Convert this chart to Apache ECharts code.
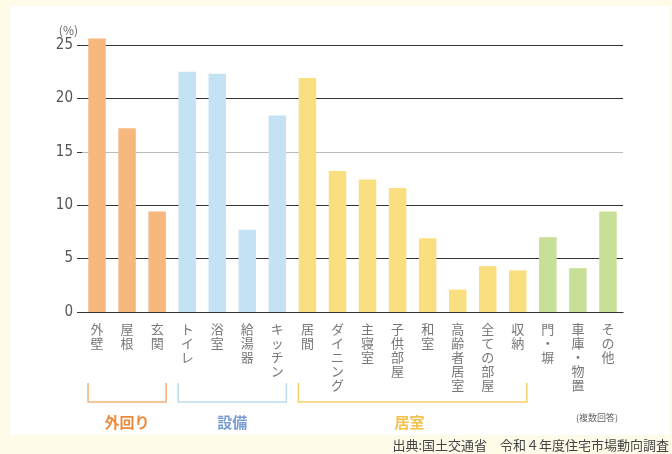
<!DOCTYPE html>
<html>
<head>
<meta charset="utf-8">
<script src="https://cdn.jsdelivr.net/npm/echarts@6/dist/echarts.min.js"></script>
<style>
  html, body { margin: 0; padding: 0; background: #fffbe9; }
  #main { width: 672px; height: 454px; }
</style>
</head>
<body>
<div id="main"></div>
<script>
var categories = ['外壁', '屋根', '玄関', 'トイレ', '浴室', '給湯器', 'キッチン', '居間', 'ダイニング',
    '主寝室', '子供部屋', '和室', '高齢者居室', '全ての部屋', '収納', '門・塀', '車庫・物置', 'その他'];
var values = [25.6, 17.2, 9.4, 22.5, 22.3, 7.7, 18.4, 21.9, 13.2,
    12.4, 11.6, 6.9, 2.1, 4.3, 3.9, 7.0, 4.1, 9.4];
// 各カテゴリのグループ番号 0:外回り 1:設備 2:居室 3:その他
var groupOf = [0, 0, 0, 1, 1, 1, 1, 2, 2, 2, 2, 2, 2, 2, 2, 3, 3, 3];
var groupNames = ['外回り', '設備', '居室'];
var groupFirst = [0, 3, 7];
var groupLast = [2, 6, 14];
var yTicks = [0, 5, 10, 15, 20, 25];

var barColors = ['#f7b87e', '#c4e2f3', '#f9df80', '#c7df97'];
var bracketColors = ['#f2b27a', '#bcdcf0', '#f5cf6a'];
var groupTextColors = ['#ee8a3c', '#7b9dd4', '#f4c14c'];

var myChart = echarts.init(document.getElementById('main'));

var option = {
    animation: false,
    textStyle: { fontFamily: 'Noto Sans CJK JP' },
    grid: { left: 82, right: 49, top: 45, bottom: 142 },
    xAxis: {
        type: 'category',
        data: categories,
        axisLine: { lineStyle: { color: '#333', width: 1.2 } },
        axisTick: { show: false },
        axisLabel: {
            interval: 0,
            margin: 10,
            verticalAlign: 'top',
            fontSize: 13,
            lineHeight: 14,
            color: '#777',
            formatter: function (v) { return v.split('').join('\n'); }
        }
    },
    yAxis: {
        type: 'value',
        min: yTicks[0],
        max: yTicks[yTicks.length - 1],
        interval: 5,
        name: '(%)',
        nameGap: 9,
        nameTextStyle: { color: '#666', fontSize: 12, align: 'right', padding: [0, 4, 0, 0] },
        axisLine: { show: false },
        axisTick: { show: true, length: 5, lineStyle: { color: '#333' } },
        axisLabel: { color: '#555', fontSize: 15, margin: 9, fontFamily: 'DejaVu Sans Condensed' },
        splitLine: { lineStyle: { color: ['#333', '#333', '#333', '#bbb', '#333', '#333'], width: 1.2 } }
    },
    series: [{
        type: 'bar',
        data: values,
        clip: false,
        barWidth: 17.5,
        itemStyle: {
            color: function (p) { return barColors[groupOf[p.dataIndex]]; }
        }
    }]
};
myChart.setOption(option);

// グループの括弧と見出しを軸の位置から描く
var elems = [{
    type: 'rect', z: -10, silent: true,
    shape: { x: 10, y: 6, width: 660, height: 429 },
    style: { fill: '#ffffff' }
}];
var halfBar = 9;
var yTop = 383, yBot = 402;
for (var g = 0; g < groupNames.length; g++) {
    var x0 = myChart.convertToPixel({ xAxisIndex: 0 }, groupFirst[g]) - halfBar;
    var x1 = myChart.convertToPixel({ xAxisIndex: 0 }, groupLast[g]) + halfBar;
    elems.push({
        type: 'polyline', silent: true,
        shape: { points: [[x0, yTop], [x0, yBot], [x1, yBot], [x1, yTop]] },
        style: { stroke: bracketColors[g], lineWidth: 1.5, fill: null }
    });
    var xc = g === 2 ? (x0 + x1) / 2 - 3 : (x0 + x1) / 2;
    elems.push({
        type: 'text', silent: true,
        x: xc, y: 422,
        style: {
            text: groupNames[g], fill: groupTextColors[g],
            font: 'bold 15px "Noto Sans CJK JP"', align: 'center', verticalAlign: 'middle'
        }
    });
}
elems.push({
    type: 'text', silent: true, x: 597, y: 418,
    style: { text: '(複数回答)', fill: '#666', font: '9px "Noto Sans CJK JP"', align: 'center', verticalAlign: 'middle' }
});
elems.push({
    type: 'text', silent: true, x: 669, y: 445,
    style: { text: '出典:国土交通省　令和４年度住宅市場動向調査', fill: '#444', font: '13px "Noto Sans CJK JP"', align: 'right', verticalAlign: 'middle' }
});
myChart.setOption({ graphic: elems });
</script>
</body>
</html>
